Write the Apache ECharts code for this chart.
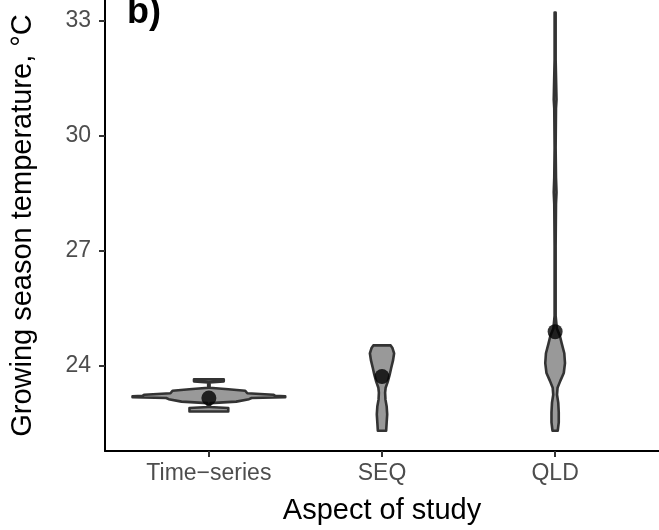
<!DOCTYPE html>
<html>
<head>
<meta charset="utf-8">
<script src="https://cdn.jsdelivr.net/npm/echarts@6/dist/echarts.min.js"></script>
<style>html,body{margin:0;padding:0;background:#fff}#c{width:659px;height:530px}</style>
</head>
<body>
<div id="c"></div>
<script>
const categories = ['Time\u2212series', 'SEQ', 'QLD'];
const yTicks = [24, 27, 30, 33];
const meanTemp = [23.16, 23.72, 24.89];

// Violin outlines: temperature (°C) and half-width (fraction of category spacing)
const tsTemp = [23.645, 23.594, 23.568, 23.427, 23.388, 23.350, 23.285, 23.247, 23.221, 23.208, 23.182, 23.162, 23.130, 23.067, 23.028, 22.925, 22.900, 22.810];
const tsHalfWidth = [0.086, 0.086, 0.004, 0.004, 0.112, 0.210, 0.222, 0.372, 0.382, 0.441, 0.441, 0.247, 0.232, 0.158, 0.010, 0.004, 0.112, 0.112];

const seqTemp = [24.532, 24.455, 24.326, 24.147, 23.941, 23.761, 23.581, 23.427, 23.298, 23.118, 22.938, 22.733, 22.527, 22.308];
const seqHalfWidth = [0.050, 0.061, 0.070, 0.064, 0.053, 0.044, 0.033, 0.021, 0.018, 0.020, 0.027, 0.030, 0.027, 0.024];

const qldTemp = [33.203, 31.987, 31.139, 30.933, 30.702, 29.674, 28.902, 28.517, 28.208, 27.103, 25.303, 24.969, 24.789, 24.584, 24.326, 24.069, 23.812, 23.607, 23.427, 23.247, 23.041, 22.784, 22.527, 22.308];
const qldHalfWidth = [0.003, 0.003, 0.007, 0.008, 0.005, 0.003, 0.005, 0.008, 0.005, 0.003, 0.003, 0.010, 0.027, 0.038, 0.053, 0.057, 0.050, 0.030, 0.014, 0.011, 0.018, 0.021, 0.021, 0.015];

const violins = [
  {temp: tsTemp, hw: tsHalfWidth},
  {temp: seqTemp, hw: seqHalfWidth},
  {temp: qldTemp, hw: qldHalfWidth}
];

const chart = echarts.init(document.getElementById('c'), null, {renderer: 'canvas'});
const FONT = 'Liberation Sans, Arial, Helvetica, sans-serif';

chart.setOption({
  animation: false,
  backgroundColor: '#ffffff',
  grid: {left: 104, right: 0, top: 0, bottom: 73, containLabel: false},
  xAxis: {
    type: 'value', min: 0.4, max: 3.6,
    splitLine: {show: false},
    axisLine: {show: true, onZero: false, lineStyle: {color: '#000', width: 2}},
    axisTick: {show: true, length: 6, lineStyle: {color: '#333', width: 2}, customValues: [1, 2, 3]},
    axisLabel: {
      customValues: [1, 2, 3], color: '#4d4d4d', fontSize: 23, fontFamily: FONT, margin: 11,
      formatter: v => categories[Math.round(v) - 1]
    },
    name: 'Aspect of study', nameLocation: 'middle', nameGap: 45,
    nameTextStyle: {color: '#000', fontSize: 29, fontFamily: FONT}
  },
  yAxis: {
    type: 'value', min: 21.78, max: 33.53,
    splitLine: {show: false},
    axisLine: {show: true, onZero: false, lineStyle: {color: '#000', width: 2}},
    axisTick: {show: true, length: 6, lineStyle: {color: '#333', width: 2}, customValues: yTicks},
    axisLabel: {customValues: yTicks, color: '#4d4d4d', fontSize: 23, fontFamily: FONT, margin: 14},
    name: 'Growing season temperature, \u00B0C', nameLocation: 'middle', nameGap: 68,
    nameTextStyle: {color: '#000', fontSize: 29, fontFamily: FONT}
  },
  graphic: [{
    type: 'text', left: 127, top: -5, z: 100,
    style: {text: 'b)', font: 'bold 36px ' + FONT, fill: '#000'}
  }],
  series: [
    {
      type: 'custom',
      data: categories.map((c, i) => [i + 1]),
      encode: {x: 0},
      clip: false,
      renderItem: function (params, api) {
        const i = params.dataIndex;
        const v = violins[i];
        const cx = i + 1;
        const pts = [];
        for (let k = 0; k < v.temp.length; k++) pts.push(api.coord([cx + v.hw[k], v.temp[k]]));
        for (let k = v.temp.length - 1; k >= 0; k--) pts.push(api.coord([cx - v.hw[k], v.temp[k]]));
        return {
          type: 'polygon',
          shape: {points: pts, smooth: 0},
          style: {fill: '#999999', stroke: '#333333', lineWidth: 2.6, lineJoin: 'round'}
        };
      },
      z: 2
    },
    {
      type: 'scatter',
      data: meanTemp.map((m, i) => [i + 1, m]),
      symbol: 'circle', symbolSize: 15,
      itemStyle: {color: '#000'},
      z: 5
    }
  ]
});
</script>
</body>
</html>
